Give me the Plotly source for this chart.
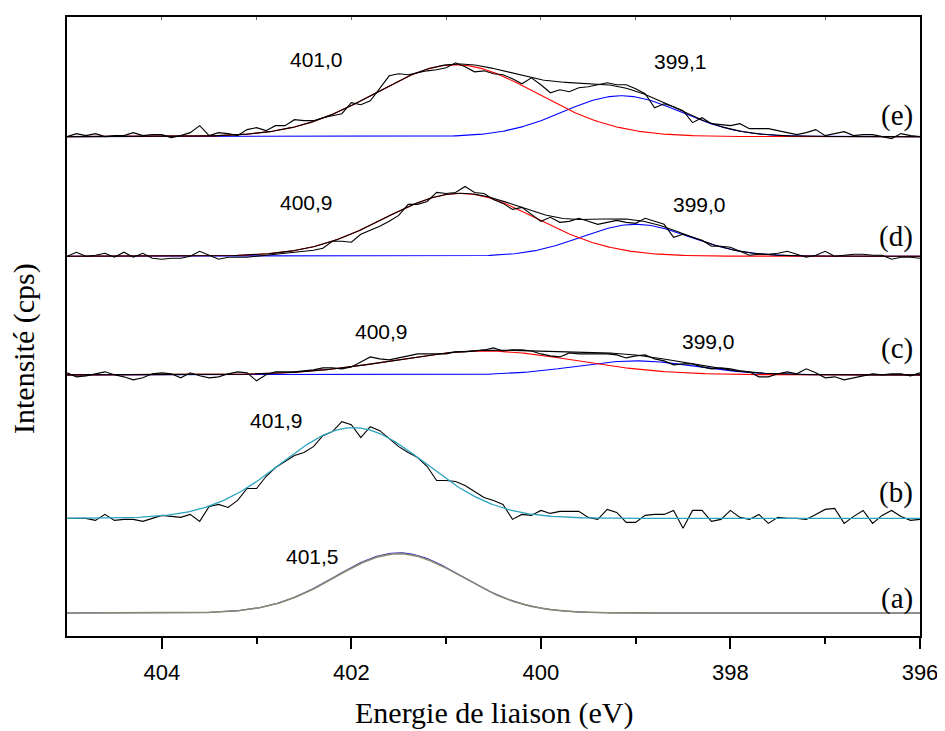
import numpy as np
import plotly.graph_objects as go

# Binding energy grid of the measured spectra (eV)
energy = [405.0, 404.9, 404.8, 404.7, 404.6, 404.5, 404.4, 404.3, 404.2, 404.1,
          404.0, 403.9, 403.8, 403.7, 403.6, 403.5, 403.4, 403.3, 403.2, 403.1,
          403.0, 402.9, 402.8, 402.7, 402.6, 402.5, 402.4, 402.3, 402.2, 402.1,
          402.0, 401.9, 401.8, 401.7, 401.6, 401.5, 401.4, 401.3, 401.2, 401.1,
          401.0, 400.9, 400.8, 400.7, 400.6, 400.5, 400.4, 400.3, 400.2, 400.1,
          400.0, 399.9, 399.8, 399.7, 399.6, 399.5, 399.4, 399.3, 399.2, 399.1,
          399.0, 398.9, 398.8, 398.7, 398.6, 398.5, 398.4, 398.3, 398.2, 398.1,
          398.0, 397.9, 397.8, 397.7, 397.6, 397.5, 397.4, 397.3, 397.2, 397.1,
          397.0, 396.9, 396.8, 396.7, 396.6, 396.5, 396.4, 396.3, 396.2, 396.1,
          396.0]

# Raw intensities (arbitrary units, relative to each spectrum's baseline)
raw_e = [0, 3, 1, 3, 0, 1, 1, 4, 1, 2,
         2, -1, 1, 4, 11, 1, 4, 3, 1, 7,
         9, 6, 11, 11, 17, 16, 16, 19, 21, 23,
         34, 32, 36, 48, 61, 63, 62, 64, 66, 67,
         69, 74, 70, 65, 66, 63, 62, 58, 53, 59,
         52, 44, 47, 45, 49, 50, 52, 54, 52, 52,
         48, 43, 29, 33, 30, 26, 14, 19, 13, 12,
         11, 13, 8, 8, 8, 6, 4, 2, 4, 7,
         1, 3, 5, 1, 2, 2, 0, -2, 3, 1,
         0]
raw_d = [0, 4, 0, 1, 3, -1, 4, -1, 3, -2,
         -3, -2, -2, 0, 5, 1, -3, -1, -1, -1,
         0, 1, 2, 3, 4, 5, 6, 8, 15, 15,
         14, 22, 26, 30, 35, 41, 52, 52, 55, 64,
         63, 64, 70, 64, 63, 57, 53, 47, 49, 42,
         35, 39, 34, 35, 38, 35, 32, 34, 36, 34,
         33, 38, 35, 32, 19, 22, 19, 16, 10, 10,
         9, 5, 1, 2, 2, 3, 5, 2, -1, 1,
         5, 0, 1, 2, 2, 1, 1, -3, -1, -1,
         -2]
raw_c = [2, -2, -1, 1, 3, 0, -2, -5, -3, 1,
         2, 1, -3, 2, -1, -3, -2, 1, 3, 2,
         -6, 0, 3, 3, 3, 4, 5, 7, 7, 6,
         8, 13, 18, 16, 15, 17, 19, 21, 21, 21,
         21, 23, 23, 24, 25, 27, 24, 25, 25, 24,
         21, 19, 18, 22, 21, 21, 21, 21, 20, 17,
         19, 20, 16, 14, 10, 11, 11, 8, 6, 7,
         6, 4, 3, -2, -2, 1, 3, 1, 6, 2,
         -3, -2, -5, -3, -1, 1, 0, 1, 1, -1,
         2]
raw_b = [0, 0, 0, -2, 4, -2, -1, -1, -3, 0,
         3, 2, 1, 4, -3, 12, 14, 11, 18, 30,
         30, 42, 51, 57, 63, 66, 72, 83, 87, 97,
         94, 81, 92, 88, 80, 72, 66, 61, 52, 38,
         38, 37, 33, 27, 21, 18, 14, -1, 4, 3,
         8, 5, 7, 7, 7, 1, -1, 9, 6, -4,
         -4, 3, 4, 4, 8, -10, 8, 8, -3, -1,
         8, 1, -1, 4, -5, 1, 0, 0, -1, 4,
         9, 10, -5, 2, 8, -5, 3, 8, 2, -2,
         -1]

# Vertical offsets of the stacked spectra
offsets = {"a": 23, "b": 118, "c": 262, "d": 381, "e": 501}

# Fitted Gaussian components: centre (eV), height, FWHM (eV)
fit_e_centers = [400.9, 399.15]
fit_e_heights = [72, 41]
fit_e_fwhm = [2.0, 1.46]
fit_d_centers = [400.85, 399.0]
fit_d_heights = [63, 32]
fit_d_fwhm = [1.88, 1.34]
fit_c_centers = [400.6, 399.0]
fit_c_heights = [24, 14]
fit_c_fwhm = [2.24, 1.5]
fit_b_center, fit_b_height, fit_b_fwhm = 401.98, 91, 1.79
fit_a_centers = [401.5, 401.5]
fit_a_heights = [60.5, 59.5]
fit_a_fwhm = [1.58, 1.58]

# Peak labels: (text, x energy, y value)
peak_labels = [("401,0", 402.37, 578), ("399,1", 398.53, 576),
               ("400,9", 402.47, 435), ("399,0", 398.33, 433),
               ("400,9", 401.68, 305), ("399,0", 398.23, 295),
               ("401,9", 402.79, 216), ("401,5", 402.41, 80)]
series_labels = [("(e)", 522), ("(d)", 401), ("(c)", 288), ("(b)", 144), ("(a)", 38)]

xfine = np.linspace(405, 396, 451)


def gauss(x, c, h, fwhm):
    s = fwhm / 2.3548
    return h * np.exp(-(x - c) ** 2 / (2 * s ** 2))


fig = go.Figure()


def line(x, y, color, width=1.1):
    fig.add_trace(go.Scatter(x=x, y=y, mode="lines", showlegend=False,
                             line=dict(color=color, width=width), hoverinfo="skip"))


for key, centers, heights, fwhms, raw in [
        ("e", fit_e_centers, fit_e_heights, fit_e_fwhm, raw_e),
        ("d", fit_d_centers, fit_d_heights, fit_d_fwhm, raw_d),
        ("c", fit_c_centers, fit_c_heights, fit_c_fwhm, raw_c)]:
    off = offsets[key]
    red = gauss(xfine, centers[0], heights[0], fwhms[0])
    blue = gauss(xfine, centers[1], heights[1], fwhms[1])
    line(xfine, blue + off, "#0000ff")
    line(xfine, red + off, "#ff0000")
    line(xfine, red + blue + off, "#000000")
    line(energy, [v + off for v in raw], "#000000")

# (b)
off = offsets["b"]
line(energy, [v + off for v in raw_b], "#000000")
line(xfine, gauss(xfine, fit_b_center, fit_b_height, fit_b_fwhm) + off, "#2ba3bf", 1.3)

# (a)
off = offsets["a"]
line(xfine, gauss(xfine, fit_a_centers[0], fit_a_heights[0], fit_a_fwhm[0]) + off, "#3030c0")
line(xfine, gauss(xfine, fit_a_centers[1], fit_a_heights[1], fit_a_fwhm[1]) + off, "#8a8a72", 1.6)

# dummy trace for top axis
fig.add_trace(go.Scatter(x=[400], y=[0], xaxis="x2", mode="markers",
                         marker=dict(opacity=0), showlegend=False, hoverinfo="skip"))

annotations = []
for txt, xe, yv in peak_labels:
    annotations.append(dict(text=txt, x=xe, y=yv, xref="x", yref="y", showarrow=False,
                            font=dict(family="Liberation Sans, Arial", size=21, color="black"),
                            xanchor="center", yanchor="middle"))
for txt, yv in series_labels:
    annotations.append(dict(text=txt, x=396.05, y=yv, xref="x", yref="y", showarrow=False,
                            font=dict(family="Liberation Serif, Times New Roman", size=29, color="black"),
                            xanchor="right", yanchor="middle"))
annotations.append(dict(text="Energie de liaison (eV)", x=0.5015, y=-0.124, xref="paper", yref="paper",
                        showarrow=False, xanchor="center", yanchor="middle",
                        font=dict(family="Liberation Serif, Times New Roman", size=30, color="black")))
annotations.append(dict(text="Intensité (cps)", x=-0.0503, y=0.4638, xref="paper", yref="paper",
                        showarrow=False, xanchor="center", yanchor="middle", textangle=-90,
                        font=dict(family="Liberation Serif, Times New Roman", size=30, color="black")))

fig.update_layout(
    width=937, height=723,
    margin=dict(l=59, r=23, t=7, b=95),
    paper_bgcolor="white", plot_bgcolor="white",
    annotations=annotations,
    xaxis=dict(range=[405, 396], tickvals=[404, 402, 400, 398, 396],
               ticktext=["404", "402", "400", "398", "396"],
               ticks="outside", ticklen=11, tickwidth=2, tickcolor="black",
               minor=dict(tickvals=[403, 401, 399, 397], ticks="outside", ticklen=6,
                          tickwidth=2, tickcolor="black"),
               showline=True, linewidth=2, linecolor="black", mirror=True,
               showgrid=False, zeroline=False, ticklabelstandoff=5,
               tickfont=dict(family="Liberation Sans, Arial", size=22, color="black")),
    xaxis2=dict(range=[405, 396], overlaying="x", side="top", anchor="y",
                tickvals=[397, 398, 399, 400, 401, 402, 403, 404],
                ticks="inside", ticklen=3, tickwidth=1, tickcolor="#666666",
                showticklabels=False, showline=False, showgrid=False, zeroline=False),
    yaxis=dict(range=[0, 621], showticklabels=False, ticks="", showgrid=False,
               zeroline=False, showline=True, linewidth=2, linecolor="black", mirror=True),
)

fig.write_html("out.html")
